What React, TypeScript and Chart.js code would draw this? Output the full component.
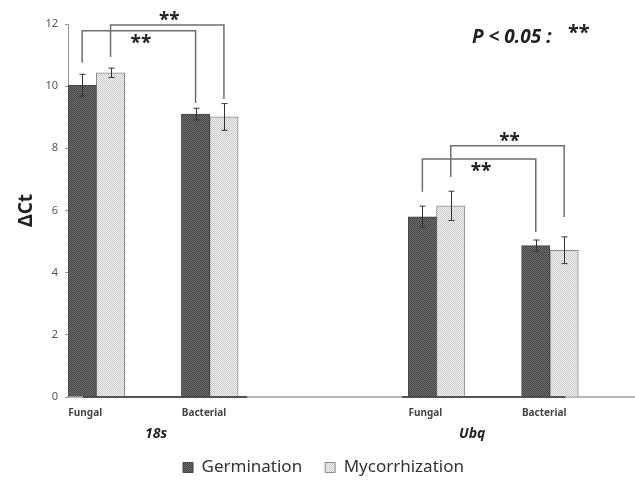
import React, { useEffect, useRef } from 'react';
import { Chart, registerables } from 'chart.js';
Chart.register(...registerables);

// ---- data ----
const genes = ['18s', 'Ubq'];
const groups = ['Fungal', 'Bacterial'];
const seriesNames = ['Germination', 'Mycorrhization'];
// order: 18s Fungal, 18s Bacterial, Ubq Fungal, Ubq Bacterial
const germination = [10.03, 9.1, 5.8, 4.87];
const mycorrhization = [10.43, 9.01, 6.15, 4.72];
const germinationErr = [0.35, 0.19, 0.34, 0.18];
const mycorrhizationErr = [0.15, 0.43, 0.47, 0.43];
const yMin = 0;
const yMax = 12;
const yStep = 2;
const yTitle = 'ΔCt';

// significance brackets
const sigFromBar = [0, 0, 2, 2];
const sigFromSeries = [1, 0, 1, 0];
const sigToBar = [1, 1, 3, 3];
const sigToSeries = [1, 0, 1, 0];
const sigStartValue = [10.94, 10.75, 7.08, 6.6];
const sigTopValue = [11.97, 11.78, 8.08, 7.66];
const sigEndValue = [9.59, 9.46, 5.79, 5.31];
const sigLabel = ['**', '**', '**', '**'];
const sigLabelAbove = [true, false, true, false];
const pLabel = 'P < 0.05';
const pSymbol = '**';

// ---- slot layout for the category axis ----
const slotLabels: string[] = [];
const barSlot: number[] = [];
genes.forEach((g, gi) => {
  if (gi > 0) slotLabels.push('', '');
  groups.forEach((grp) => {
    barSlot.push(slotLabels.length);
    slotLabels.push(grp, '');
  });
});
const toSlots = (vals: number[]) => {
  const out: (number | null)[] = slotLabels.map(() => null);
  vals.forEach((v, i) => (out[barSlot[i]] = v));
  return out;
};

const FONT = "'Noto Sans', 'Open Sans', sans-serif";

const annotPlugin = {
  id: 'annot',
  afterDatasetsDraw(chart: any) {
    const ctx = chart.ctx as CanvasRenderingContext2D;
    const ys = chart.scales.y;
    const xs = chart.scales.x;
    const area = chart.chartArea;
    const vals = [germination, mycorrhization];
    const errs = [germinationErr, mycorrhizationErr];
    ctx.save();
    // error bars
    ctx.strokeStyle = '#333';
    ctx.lineWidth = 1;
    for (let s = 0; s < 2; s++) {
      const meta = chart.getDatasetMeta(s);
      vals[s].forEach((v, k) => {
        const el = meta.data[barSlot[k]];
        const x = Math.round(el.x) + 0.5;
        const t = ys.getPixelForValue(v + errs[s][k]);
        const b = ys.getPixelForValue(v - errs[s][k]);
        ctx.beginPath();
        ctx.moveTo(x, t);
        ctx.lineTo(x, b);
        ctx.moveTo(x - 3, t);
        ctx.lineTo(x + 3, t);
        ctx.moveTo(x - 3, b);
        ctx.lineTo(x + 3, b);
        ctx.stroke();
      });
    }
    // brackets
    ctx.strokeStyle = '#6e6e6e';
    ctx.lineWidth = 1.5;
    sigFromBar.forEach((fb, i) => {
      const x1 = chart.getDatasetMeta(sigFromSeries[i]).data[barSlot[fb]].x;
      const x2 = chart.getDatasetMeta(sigToSeries[i]).data[barSlot[sigToBar[i]]].x;
      const y1 = ys.getPixelForValue(sigStartValue[i]);
      const yt = ys.getPixelForValue(sigTopValue[i]);
      const y2 = ys.getPixelForValue(sigEndValue[i]);
      ctx.beginPath();
      ctx.moveTo(x1, y1);
      ctx.lineTo(x1, yt);
      ctx.lineTo(x2, yt);
      ctx.lineTo(x2, y2);
      ctx.stroke();
      const size = 19;
      ctx.font = `bold ${size}px ${FONT}`;
      ctx.fillStyle = '#222';
      ctx.textAlign = 'center';
      ctx.textBaseline = 'alphabetic';
      const cy = sigLabelAbove[i] ? yt - 7 : yt + 10;
      ctx.fillText(sigLabel[i], (x1 + x2) / 2 + 2, cy + size * 0.45);
    });
    // group underlines and labels
    const slotW = xs.width / slotLabels.length;
    const ulOff = [[15, 9], [-6, -13]];
    const lblOff = [88, 64];
    genes.forEach((g, gi) => {
      const left = xs.getPixelForValue(barSlot[gi * 2]) - slotW / 2;
      const right = xs.getPixelForValue(barSlot[gi * 2 + 1]) + slotW / 2;
      ctx.strokeStyle = '#333';
      ctx.lineWidth = 1.5;
      ctx.beginPath();
      ctx.moveTo(left + ulOff[gi][0], area.bottom);
      ctx.lineTo(right + ulOff[gi][1], area.bottom);
      ctx.stroke();
      ctx.font = `italic bold 14px ${FONT}`;
      ctx.fillStyle = '#222';
      ctx.textAlign = 'center';
      ctx.textBaseline = 'middle';
      ctx.fillText(g, left + lblOff[gi], area.bottom + 37);
    });
    // p-value legend
    ctx.font = `italic bold 19px ${FONT}`;
    ctx.fillStyle = '#222';
    ctx.textAlign = 'left';
    ctx.textBaseline = 'alphabetic';
    ctx.fillText(pLabel + ' :', area.right - 163, 43);
    ctx.font = `bold 20px ${FONT}`;
    ctx.fillText(pSymbol, area.right - 67, 30 + 20 * 0.45);
    ctx.restore();
  },
};

export default function App() {
  const ref = useRef<HTMLCanvasElement>(null);
  useEffect(() => {
    const canvas = ref.current!;
    const c2d = canvas.getContext('2d')!;
    const makePattern = (a: string, b: string) => {
      const p = document.createElement('canvas');
      p.width = 2;
      p.height = 2;
      const pc = p.getContext('2d')!;
      pc.fillStyle = a;
      pc.fillRect(0, 0, 2, 2);
      pc.fillStyle = b;
      pc.fillRect(0, 0, 1, 1);
      pc.fillRect(1, 1, 1, 1);
      return c2d.createPattern(p, 'repeat')!;
    };
    const darkFill = makePattern('#6c6c6c', '#474747');
    const lightFill = makePattern('#ececec', '#cfcfcf');
    const chart = new Chart(canvas, {
      type: 'bar',
      data: {
        labels: slotLabels,
        datasets: [
          {
            label: seriesNames[0],
            data: toSlots(germination),
            backgroundColor: darkFill as any,
            borderColor: '#444',
            borderWidth: 1,
          },
          {
            label: seriesNames[1],
            data: toSlots(mycorrhization),
            backgroundColor: lightFill as any,
            borderColor: '#8a8a8a',
            borderWidth: 1,
          },
        ],
      },
      options: {
        responsive: false,
        animation: false,
        events: [],
        layout: { padding: { left: 12, top: 24, right: 0, bottom: -3 } },
        datasets: { bar: { categoryPercentage: 1, barPercentage: 1, skipNull: false } } as any,
        plugins: {
          tooltip: { enabled: false },
          legend: {
            position: 'bottom',
            labels: {
              boxWidth: 10,
              boxHeight: 10,
              padding: 23,
              color: '#333',
              font: { size: 17, family: FONT },
            },
          },
        },
        scales: {
          x: {
            type: 'category',
            offset: true,
            grid: { display: false },
            border: { display: true, color: '#b5b5b5', width: 2 },
            ticks: {
              autoSkip: false,
              maxRotation: 0,
              align: 'start',
              labelOffset: -28,
              padding: 2,
              color: '#444',
              font: { size: 10, weight: 'bold', family: FONT },
            },
            afterFit: (s: any) => {
              s.height = 39;
            },
          },
          y: {
            min: yMin,
            max: yMax,
            ticks: {
              stepSize: yStep,
              padding: 7,
              color: '#555',
              font: { size: 11, family: FONT },
            },
            grid: { drawOnChartArea: false, tickLength: 3, color: '#999' },
            border: { display: true, color: '#999', width: 1 },
            title: {
              display: true,
              text: yTitle,
              color: '#222',
              padding: { top: 3, bottom: 0 },
              font: { size: 19, weight: 'bold', family: FONT },
            },
            afterFit: (s: any) => {
              s.width = 56;
            },
          },
        },
      },
      plugins: [annotPlugin],
    });
    return () => chart.destroy();
  }, []);
  return (
    <div style={{ position: 'absolute', left: 0, top: 0, width: 635, height: 483, background: '#fff' }}>
      <canvas ref={ref} width={635} height={483} style={{ display: 'block' }} />
    </div>
  );
}
